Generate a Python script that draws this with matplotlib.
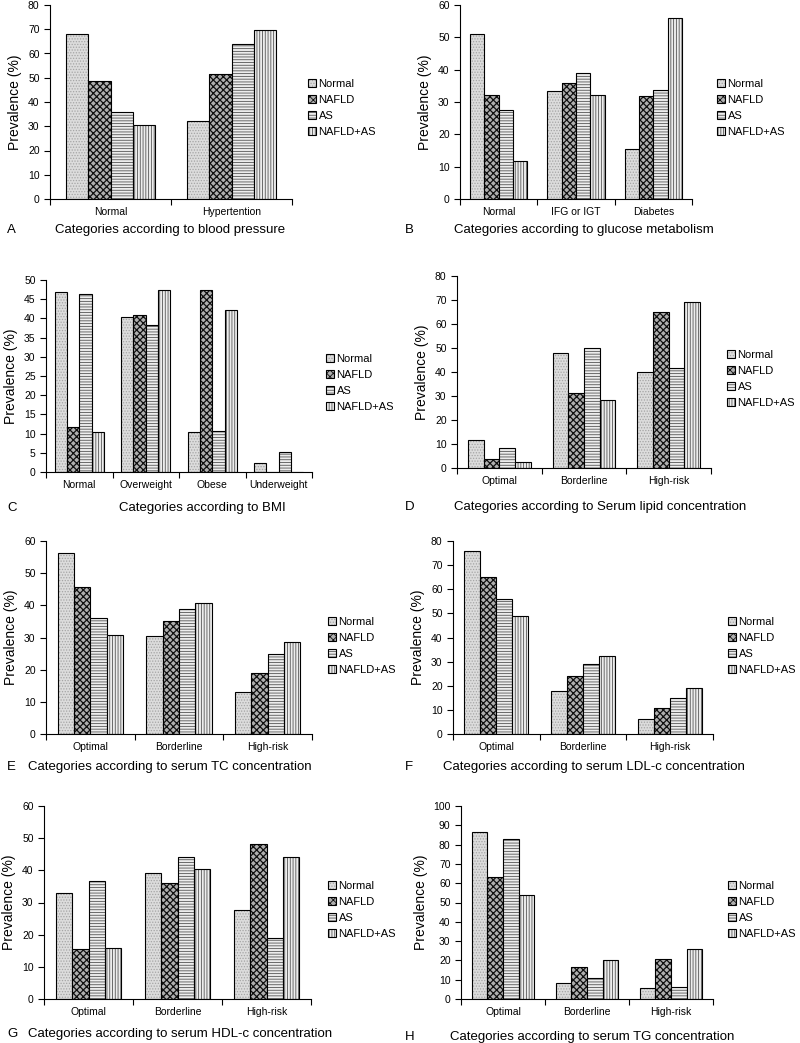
import numpy as np
import matplotlib
matplotlib.use('Agg')
import matplotlib.pyplot as plt

plt.rcParams['font.family'] = ['Liberation Sans', 'DejaVu Sans']
plt.rcParams['hatch.linewidth'] = 0.6

groups = ['Normal', 'NAFLD', 'AS', 'NAFLD+AS']

# A blood pressure
bp_cats = ['Normal', 'Hypertention']
bp_normal = [68.0, 32.0]
bp_nafld = [48.5, 51.5]
bp_as = [36.0, 64.0]
bp_both = [30.5, 69.5]

# B glucose metabolism
glu_cats = ['Normal', 'IFG or IGT', 'Diabetes']
glu_normal = [51.0, 33.5, 15.5]
glu_nafld = [32.3, 35.8, 31.8]
glu_as = [27.5, 38.9, 33.6]
glu_both = [11.7, 32.3, 56.0]

# C BMI
bmi_cats = ['Normal', 'Overweight', 'Obese', 'Underweight']
bmi_normal = [47.0, 40.3, 10.3, 2.4]
bmi_nafld = [11.6, 41.0, 47.4, 0.0]
bmi_as = [46.3, 38.3, 10.6, 5.2]
bmi_both = [10.4, 47.4, 42.1, 0.0]

risk_cats = ['Optimal', 'Borderline', 'High-risk']

# D serum lipid
lip_normal = [11.8, 48.0, 40.2]
lip_nafld = [3.8, 31.2, 65.0]
lip_as = [8.2, 50.2, 41.8]
lip_both = [2.4, 28.5, 69.0]

# E TC
tc_normal = [56.3, 30.4, 13.1]
tc_nafld = [45.8, 35.2, 18.9]
tc_as = [36.0, 38.9, 25.0]
tc_both = [30.8, 40.7, 28.5]

# F LDL-c
ldl_normal = [75.8, 17.9, 6.2]
ldl_nafld = [65.2, 24.1, 10.6]
ldl_as = [55.8, 29.2, 15.0]
ldl_both = [48.9, 32.2, 18.9]

# G HDL-c
hdl_normal = [32.9, 39.3, 27.8]
hdl_nafld = [15.5, 36.2, 48.2]
hdl_as = [36.7, 44.2, 19.1]
hdl_both = [15.7, 40.3, 44.0]

# H TG
tg_normal = [86.4, 8.1, 5.5]
tg_nafld = [63.1, 16.4, 20.6]
tg_as = [83.0, 11.0, 6.0]
tg_both = [54.1, 20.1, 25.9]

styles = [
    dict(fc='#dcdcdc', hatch='......', hc='#a5a5a5', hlw=0.6),
    dict(fc='#b0b0b0', hatch='xxxxx', hc='#111111', hlw=0.9),
    dict(fc='#ededed', hatch='------', hc='#555555', hlw=0.6),
    dict(fc='#ededed', hatch='||||||', hc='#555555', hlw=0.6),
]

W, H = 800, 1043
fig = plt.figure(figsize=(8, 10.43), dpi=100)

# (letter, cats, series, ymax, step, axes box l r t b, legend x y, label, label x y, letter x)
panels = [
    ('A', bp_cats, [bp_normal, bp_nafld, bp_as, bp_both], 80, 10,
     (50, 292, 5, 199), (308, 108), 'Categories according to blood pressure', (170, 230), 7),
    ('B', glu_cats, [glu_normal, glu_nafld, glu_as, glu_both], 60, 10,
     (460, 692, 5, 199), (717, 108), 'Categories according to glucose metabolism', (584, 230), 405),
    ('C', bmi_cats, [bmi_normal, bmi_nafld, bmi_as, bmi_both], 50, 5,
     (46, 312, 280, 472), (326, 383), 'Categories according to BMI', (202, 508), 7),
    ('D', risk_cats, [lip_normal, lip_nafld, lip_as, lip_both], 80, 10,
     (457, 711, 276, 468), (727, 379), 'Categories according to Serum lipid concentration', (600, 507), 405),
    ('E', risk_cats, [tc_normal, tc_nafld, tc_as, tc_both], 60, 10,
     (46, 312, 541, 734), (328, 646), 'Categories according to serum TC concentration', (170, 767), 7),
    ('F', risk_cats, [ldl_normal, ldl_nafld, ldl_as, ldl_both], 80, 10,
     (453, 713, 541, 734), (728, 646), 'Categories according to serum LDL-c concentration', (594, 767), 405),
    ('G', risk_cats, [hdl_normal, hdl_nafld, hdl_as, hdl_both], 60, 10,
     (44, 311, 806, 999), (328, 910), 'Categories according to serum HDL-c concentration', (180, 1034), 7),
    ('H', risk_cats, [tg_normal, tg_nafld, tg_as, tg_both], 100, 10,
     (461, 713, 806, 999), (728, 910), 'Categories according to serum TG concentration', (592, 1037), 405),
]

w = 0.185
for letter, cats, series, ymax, step, box, leg, label, lab_xy, let_x in panels:
    l, r, t, b = box
    ax = fig.add_axes([l / W, 1 - b / H, (r - l) / W, (b - t) / H])
    x = np.arange(len(cats))
    handles = []
    for i, (vals, st) in enumerate(zip(series, styles)):
        pos = x + (i - 1.5) * w
        with plt.rc_context({'hatch.linewidth': st['hlw']}):
            b1 = ax.bar(pos, vals, w, color=st['fc'], hatch=st['hatch'],
                        edgecolor=st['hc'], linewidth=0)
        b2 = ax.bar(pos, vals, w, fill=False, edgecolor='black', linewidth=0.8)
        handles.append((b1[0], b2[0]))
    ax.set_xlim(-0.5, len(cats) - 0.5)
    ax.set_ylim(0, ymax)
    ax.set_yticks(np.arange(0, ymax + 1, step))
    ax.set_xticks(x)
    ax.set_xticklabels(cats)
    ax.set_xticks(np.arange(len(cats) + 1) - 0.5, minor=True)
    ax.tick_params(axis='x', which='major', length=0, labelsize=7.5, pad=6)
    ax.tick_params(axis='x', which='minor', length=4, direction='out', width=0.8)
    ax.tick_params(axis='y', length=4, direction='out', width=0.8, labelsize=7.5)
    for s in ['top', 'right']:
        ax.spines[s].set_visible(False)
    for s in ['left', 'bottom']:
        ax.spines[s].set_linewidth(0.8)
    ax.set_ylabel('Prevalence (%)', fontsize=10)
    ax.legend(handles, groups, loc='center left',
              bbox_to_anchor=(leg[0] / W, 1 - leg[1] / H), bbox_transform=fig.transFigure,
              frameon=False, fontsize=8, handlelength=0.7, handleheight=0.7,
              handletextpad=0.25, labelspacing=0.55, borderpad=0, borderaxespad=0)
    fig.text(lab_xy[0] / W, 1 - lab_xy[1] / H, label, fontsize=9.5, ha='center', va='center')
    fig.text(let_x / W, 1 - lab_xy[1] / H, letter, fontsize=9.5, ha='left', va='center')

fig.savefig('out.png', dpi=100)
